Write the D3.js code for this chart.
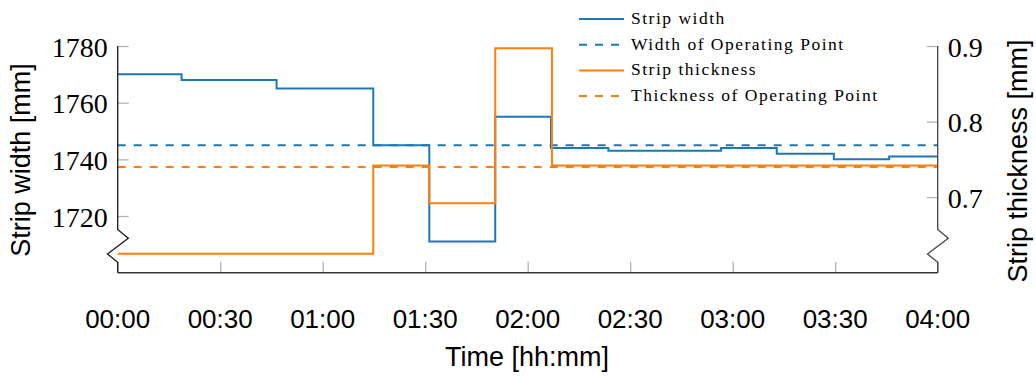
<!DOCTYPE html>
<html>
<head>
<meta charset="utf-8">
<script src="https://cdn.jsdelivr.net/npm/d3@7"></script>
<style>
  body { margin: 0; background: #fff; }
  svg { display: block; }
</style>
</head>
<body>
<svg id="chart" width="1036" height="376"></svg>
<script>
// data, time in minutes since 00:00
var widthTimes = [0, 18.7, 46.5, 74.8, 91.2, 110.5, 126.8, 143.6, 176.6, 192.9, 209.6, 225.8];
var widthValues = [1770, 1768, 1765, 1745, 1711, 1755, 1744, 1743, 1744, 1742, 1740, 1741];
var thickTimes = [0, 74.8, 91.2, 110.5, 127.1];
var thickValues = [0.625, 0.742, 0.692, 0.897, 0.742];
var widthOP = 1745;
var thickOP = 0.74;
var END_TIME = 240;
var xTicks = [0, 30, 60, 90, 120, 150, 180, 210, 240];
var widthTicks = [1720, 1740, 1760, 1780];
var thickTicks = [0.7, 0.8, 0.9];
var legendLabels = ["Strip width", "Width of Operating Point", "Strip thickness", "Thickness of Operating Point"];

var BLUE = "#1f77b4", ORANGE = "#ff7f0e";
var LEFT = 117.7, RIGHT = 937.7, TOP = 46, BOTTOM = 272.7;
var TICK_COLOR = "#b3b3b3";
var SERIF = "'Liberation Serif', 'DejaVu Serif', serif";
var SANS = "'Liberation Sans', Arial, sans-serif";

var svg = d3.select("#chart");

var x = d3.scaleLinear().domain([0, END_TIME]).range([LEFT, RIGHT]);
var yW = d3.scaleLinear().domain([1700, 1780]).range([BOTTOM, TOP]);
var yT = d3.scaleLinear().domain([0.6, 0.9]).range([BOTTOM, TOP]);

var fmtTime = function(m) {
  var h = Math.floor(m / 60), mm = m % 60;
  return (h < 10 ? "0" : "") + h + ":" + (mm < 10 ? "0" : "") + mm;
};

// ticks (inward, gray)
var xAxis = d3.axisTop(x).tickValues(xTicks).tickSize(11).tickFormat("");
var gx = svg.append("g").attr("transform", "translate(0," + BOTTOM + ")").call(xAxis);
gx.select(".domain").remove();
gx.selectAll(".tick line").attr("stroke", TICK_COLOR).attr("stroke-width", 1.3);

var gyl = svg.append("g").attr("transform", "translate(" + LEFT + ",0)")
  .call(d3.axisRight(yW).tickValues(widthTicks).tickSize(11).tickFormat(""));
gyl.select(".domain").remove();
gyl.selectAll(".tick line").attr("stroke", TICK_COLOR).attr("stroke-width", 1.3);
gyl.selectAll(".tick").append("text")
  .attr("x", -10).attr("dy", "0.36em")
  .attr("text-anchor", "end")
  .attr("fill", "#000")
  .style("font-family", SERIF).style("font-size", "28px")
  .text(function(d) { return d; });

var gyr = svg.append("g").attr("transform", "translate(" + RIGHT + ",0)")
  .call(d3.axisLeft(yT).tickValues(thickTicks).tickSize(11).tickFormat(""));
gyr.select(".domain").remove();
gyr.selectAll(".tick line").attr("stroke", TICK_COLOR).attr("stroke-width", 1.3);
gyr.selectAll(".tick").append("text")
  .attr("x", 10).attr("dy", "0.36em")
  .attr("text-anchor", "start")
  .attr("fill", "#000")
  .style("font-family", SERIF).style("font-size", "28px")
  .text(function(d) { return d3.format(".1f")(d); });

// x tick labels
svg.append("g").selectAll("text").data(xTicks).join("text")
  .attr("x", function(d) { return x(d); })
  .attr("y", BOTTOM + 55)
  .attr("text-anchor", "middle")
  .style("font-family", SANS).style("font-size", "26px")
  .text(fmtTime);

// series
var stepData = function(times, values) {
  var pts = times.map(function(t, i) { return [t, values[i]]; });
  pts.push([END_TIME, values[values.length - 1]]);
  return pts;
};

var lineW = d3.line().x(function(d) { return x(d[0]); }).y(function(d) { return yW(d[1]); }).curve(d3.curveStepAfter);
var lineT = d3.line().x(function(d) { return x(d[0]); }).y(function(d) { return yT(d[1]); }).curve(d3.curveStepAfter);

svg.append("path").datum(stepData(widthTimes, widthValues))
  .attr("d", lineW).attr("fill", "none").attr("stroke", BLUE).attr("stroke-width", 2);
svg.append("path").datum([[0, widthOP], [END_TIME, widthOP]])
  .attr("d", lineW).attr("fill", "none").attr("stroke", BLUE).attr("stroke-width", 2)
  .attr("stroke-dasharray", "8,8");
svg.append("path").datum(stepData(thickTimes, thickValues))
  .attr("d", lineT).attr("fill", "none").attr("stroke", ORANGE).attr("stroke-width", 2);
svg.append("path").datum([[0, thickOP], [END_TIME, thickOP]])
  .attr("d", lineT).attr("fill", "none").attr("stroke", ORANGE).attr("stroke-width", 2)
  .attr("stroke-dasharray", "8,8");

// spines with axis break zigzags
var zig = function(x0, dir) {
  return [[x0, TOP], [x0, 229.5], [x0 + dir * 10.6, 238.3], [x0 - dir * 10.2, 254],
    [x0, 262.3], [x0, BOTTOM]];
};
svg.append("path").attr("d", d3.line()(zig(LEFT, 1)))
  .attr("fill", "none").attr("stroke", "#1a1a1a").attr("stroke-width", 1.3);
svg.append("path").attr("d", d3.line()(zig(RIGHT, 1)))
  .attr("fill", "none").attr("stroke", "#444").attr("stroke-width", 1.3);
svg.append("line").attr("x1", LEFT).attr("x2", RIGHT).attr("y1", BOTTOM).attr("y2", BOTTOM)
  .attr("stroke", "#333").attr("stroke-width", 1.5);

// axis labels
svg.append("text").attr("transform", "translate(30,160) rotate(-90)")
  .attr("text-anchor", "middle")
  .style("font-family", SANS).style("font-size", "27px")
  .text("Strip width [mm]");
svg.append("text").attr("transform", "translate(1027,161) rotate(-90)")
  .attr("text-anchor", "middle")
  .style("font-family", SANS).style("font-size", "27px")
  .text("Strip thickness [mm]");
svg.append("text").attr("x", 527).attr("y", 366)
  .attr("text-anchor", "middle")
  .style("font-family", SANS).style("font-size", "27px")
  .text("Time [hh:mm]");

// legend
var legendColors = [BLUE, BLUE, ORANGE, ORANGE];
var legendDash = [null, "8,8", null, "8,8"];
var lg = svg.append("g").selectAll("g").data(legendLabels).join("g")
  .attr("transform", function(d, i) { return "translate(579," + (19 + i * 25.7) + ")"; });
lg.append("line").attr("x1", 0).attr("x2", 45).attr("y1", 0).attr("y2", 0)
  .attr("stroke", function(d, i) { return legendColors[i]; })
  .attr("stroke-width", 2)
  .attr("stroke-dasharray", function(d, i) { return legendDash[i]; });
lg.append("text").attr("x", 52).attr("y", 5)
  .style("font-family", SERIF).style("font-size", "17.5px")
  .style("letter-spacing", "1.5px")
  .text(function(d) { return d; });
</script>
</body>
</html>
